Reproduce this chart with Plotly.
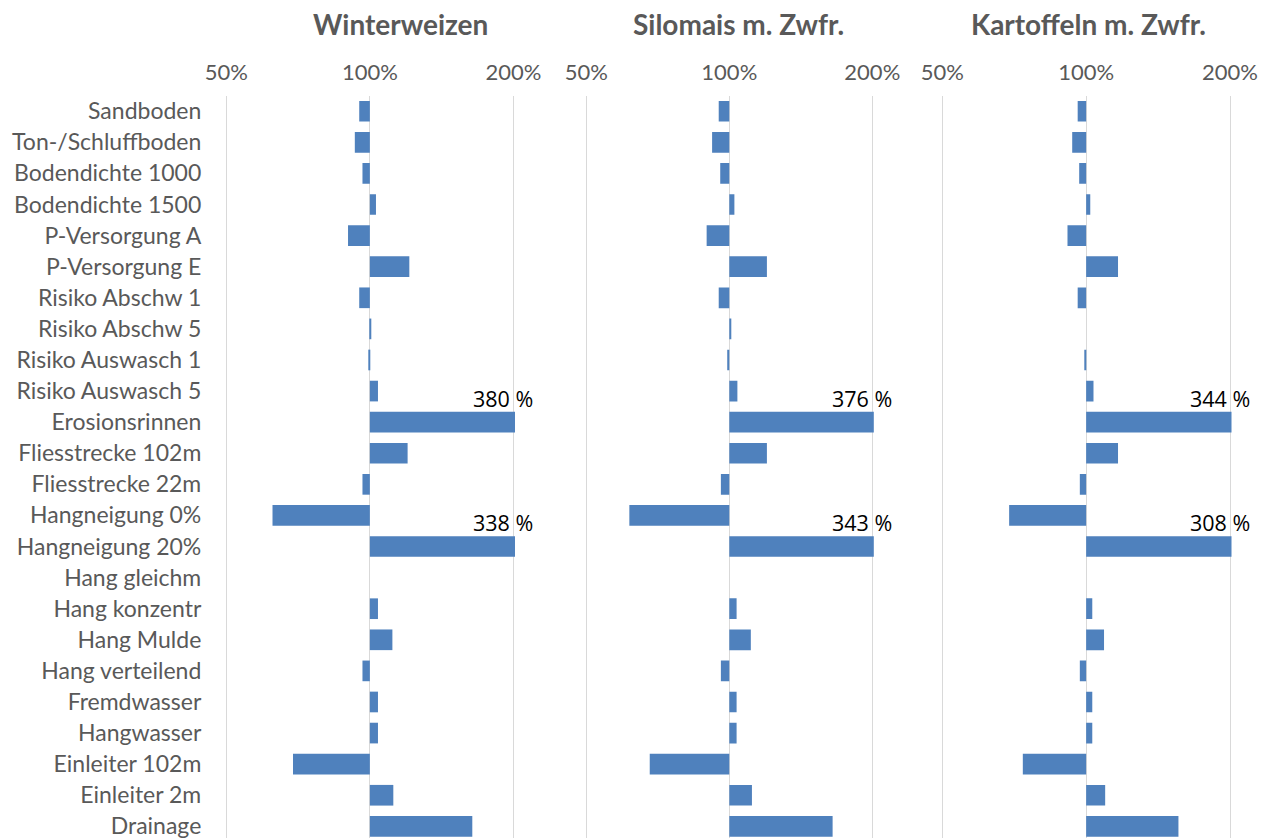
import math
import plotly.graph_objects as go

# Row labels (top to bottom)
categories = [
    "Sandboden", "Ton-/Schluffboden", "Bodendichte 1000", "Bodendichte 1500",
    "P-Versorgung A", "P-Versorgung E", "Risiko Abschw 1", "Risiko Abschw 5",
    "Risiko Auswasch 1", "Risiko Auswasch 5", "Erosionsrinnen", "Fliesstrecke 102m",
    "Fliesstrecke 22m", "Hangneigung 0%", "Hangneigung 20%", "Hang gleichm",
    "Hang konzentr", "Hang Mulde", "Hang verteilend", "Fremdwasser",
    "Hangwasser", "Einleiter 102m", "Einleiter 2m", "Drainage",
]

# Relative values in percent of the reference scenario (100 %)
winterweizen = [95, 93, 96.5, 103, 90, 121, 95, 100.6, 99.5, 104, 380, 120,
                96.5, 62.5, 338, 100, 104, 111.5, 96.5, 104, 104, 69, 112, 164]
silomais = [95, 92, 95.7, 102.5, 89.6, 120, 95, 100.7, 99, 104, 376, 120,
            96, 61.6, 343, 100, 103.6, 111, 96, 103.6, 103.6, 68, 111.6, 165]
kartoffeln = [96, 93.5, 96.7, 102, 91.4, 116.6, 96, 100, 99.5, 103.6, 344, 116.6,
              97, 69, 308, 100, 103, 109, 97, 103, 103, 73.7, 109.6, 156]

panel_titles = ["Winterweizen", "Silomais m. Zwfr.", "Kartoffeln m. Zwfr."]
tick_vals = [50, 100, 200]
tick_text = ["50%", "100%", "200%"]

W, H = 1265, 838
BAR_COLOR = "#4F81BD"
GRID_COLOR = "#D9D9D9"
TEXT_GRAY = "#595959"
FONT = "Lato"

# Pixel layout per panel: where the 50 % and 200 % gridlines sit,
# and the slightly wider plot area around them
grid_px = [(226.3, 513.4), (586.3, 872.3), (942.3, 1230.0)]
area_px = [(222.3, 515.0), (582.3, 873.8), (938.3, 1231.5)]
title_px = [400.5, 738.5, 1088.0]
plot_top_px = 95.7

LOG_50, LOG_200 = math.log10(50), math.log10(200)

series = [winterweizen, silomais, kartoffeln]

fig = go.Figure()
annotations = []

for i, (vals, title) in enumerate(zip(series, panel_titles)):
    suffix = "" if i == 0 else str(i + 1)
    fig.add_trace(go.Bar(
        y=categories,
        x=[v - 100 for v in vals],
        base=100,
        orientation="h",
        marker=dict(color=BAR_COLOR, line=dict(width=0)),
        xaxis="x" + suffix,
        yaxis="y" + suffix,
        hovertext=[f"{v:g} %" for v in vals],
        hoverinfo="y+text",
        showlegend=False,
    ))

    g0, g1 = grid_px[i]
    a0, a1 = area_px[i]
    per_px = (LOG_200 - LOG_50) / (g1 - g0)
    x_range = [LOG_50 - (g0 - a0) * per_px, LOG_200 + (a1 - g1) * per_px]

    fig.update_layout(**{
        "xaxis" + suffix: dict(
            type="log",
            domain=[a0 / W, a1 / W],
            range=x_range,
            side="top",
            tickvals=tick_vals,
            ticktext=tick_text,
            tickangle=0,
            tickfont=dict(family=FONT, size=22, color=TEXT_GRAY),
            ticks="",
            ticklabelstandoff=10,
            showgrid=True,
            gridcolor=GRID_COLOR,
            gridwidth=1,
            showline=False,
            zeroline=False,
            automargin=False,
            anchor="y" + suffix,
            fixedrange=True,
        ),
        "yaxis" + suffix: dict(
            type="category",
            categoryarray=categories,
            domain=[0, 1 - plot_top_px / H],
            range=[23.375, -0.5],
            showgrid=False,
            showline=False,
            zeroline=False,
            ticks="",
            showticklabels=(i == 0),
            tickfont=dict(family=FONT, size=23, color=TEXT_GRAY),
            ticklabelstandoff=20,
            automargin=False,
            anchor="x" + suffix,
            fixedrange=True,
        ),
    })

    # Panel heading
    annotations.append(dict(
        text=f"<b>{title}</b>",
        x=title_px[i] / W, y=1 - 24 / H,
        xref="paper", yref="paper",
        xanchor="center", yanchor="middle",
        showarrow=False,
        font=dict(family=FONT, size=28, color=TEXT_GRAY),
    ))

    # Values beyond the axis limit are stated next to the clipped bar
    for cat, v in zip(categories, vals):
        if v > 200:
            annotations.append(dict(
                text=f"{v:g} %",
                x=LOG_200, y=cat,
                xref="x" + suffix, yref="y" + suffix,
                xanchor="center", yanchor="middle",
                xshift=-10, yshift=24,
                showarrow=False,
                font=dict(family="Open Sans", size=21.5, color="#000000"),
            ))

fig.update_layout(
    width=W, height=H,
    margin=dict(l=0, r=0, t=0, b=0, autoexpand=False),
    paper_bgcolor="white",
    plot_bgcolor="white",
    bargap=0.335,
    annotations=annotations,
)

fig.write_html("out.html")
